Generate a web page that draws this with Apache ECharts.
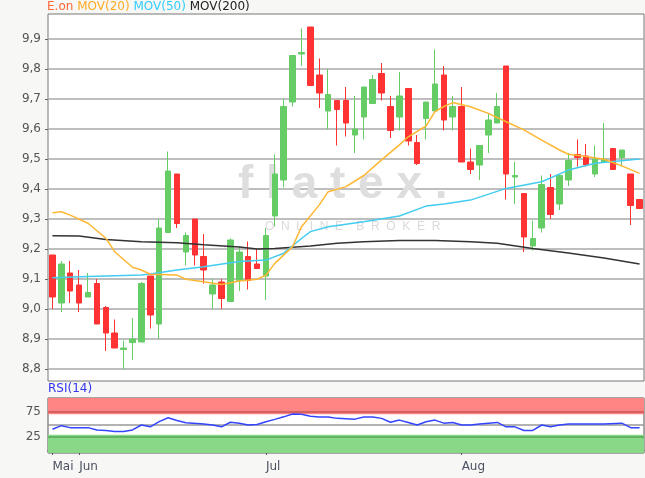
<!DOCTYPE html>
<html><head><meta charset="utf-8">
<script src="https://cdn.jsdelivr.net/npm/echarts@6/dist/echarts.min.js"></script>
<style>html,body{margin:0;padding:0;background:#f7f7f5}#c{width:645px;height:478px}</style>
</head><body><div id="c"></div>
<script>
const dates = ['29.05.','30.05.','31.05.',
 '01.06.','04.06.','05.06.','06.06.','07.06.','08.06.','11.06.','12.06.','13.06.','14.06.','15.06.','18.06.','19.06.','20.06.','21.06.','22.06.','25.06.','26.06.','27.06.','28.06.','29.06.',
 '02.07.','03.07.','04.07.','05.07.','06.07.','09.07.','10.07.','11.07.','12.07.','13.07.','16.07.','17.07.','18.07.','19.07.','20.07.','23.07.','24.07.','25.07.','26.07.','27.07.','30.07.','31.07.',
 '01.08.','02.08.','03.08.','06.08.','07.08.','08.08.','09.08.','10.08.','13.08.','14.08.','15.08.','16.08.','17.08.','20.08.','21.08.','22.08.','23.08.','24.08.','27.08.','28.08.','29.08.'];
// [open, close, low, high]
const ohlc = [
 [9.18,9.04,9.00,9.18],[9.02,9.15,8.99,9.16],[9.12,9.06,9.02,9.16],[9.08,9.02,8.99,9.13],[9.04,9.055,9.04,9.12],
 [9.085,8.95,8.95,9.10],[9.005,8.92,8.86,9.01],[8.92,8.87,8.87,8.965],[8.865,8.87,8.80,8.895],[8.888,8.90,8.83,8.97],
 [8.89,9.085,8.89,9.09],[9.11,8.98,8.935,9.11],[8.95,9.27,8.90,9.30],[9.255,9.46,9.255,9.525],[9.45,9.285,9.27,9.45],
 [9.19,9.245,9.145,9.255],[9.30,9.18,9.145,9.30],[9.175,9.13,9.085,9.25],[9.05,9.08,9.00,9.10],[9.09,9.035,9.00,9.10],
 [9.025,9.23,9.025,9.235],[9.095,9.19,9.06,9.21],[9.175,9.095,9.065,9.225],[9.15,9.135,9.135,9.20],[9.11,9.245,9.03,9.27],
 [9.31,9.45,9.275,9.515],[9.43,9.675,9.405,9.70],[9.69,9.845,9.675,9.845],[9.85,9.855,9.81,9.935],[9.94,9.745,9.745,9.94],
 [9.78,9.72,9.67,9.835],[9.66,9.715,9.60,9.80],[9.695,9.665,9.545,9.695],[9.695,9.62,9.575,9.74],[9.58,9.60,9.52,9.71],
 [9.64,9.74,9.565,9.74],[9.685,9.765,9.685,9.78],[9.785,9.72,9.695,9.82],[9.675,9.595,9.57,9.71],[9.64,9.71,9.595,9.79],
 [9.735,9.56,9.545,9.735],[9.555,9.485,9.48,9.58],[9.635,9.69,9.565,9.69],[9.66,9.75,9.66,9.865],[9.78,9.63,9.595,9.81],
 [9.64,9.675,9.595,9.71],[9.675,9.49,9.49,9.74],[9.49,9.465,9.45,9.535],[9.48,9.545,9.43,9.545],[9.58,9.63,9.52,9.65],
 [9.62,9.675,9.62,9.72],[9.81,9.45,9.365,9.81],[9.44,9.445,9.35,9.49],[9.385,9.24,9.19,9.385],[9.21,9.235,9.195,9.295],
 [9.27,9.415,9.255,9.445],[9.405,9.315,9.30,9.45],[9.35,9.445,9.33,9.445],[9.43,9.495,9.41,9.52],[9.515,9.505,9.475,9.565],
 [9.51,9.48,9.475,9.55],[9.45,9.50,9.44,9.545],[9.49,9.50,9.49,9.62],[9.535,9.465,9.465,9.535],[9.505,9.53,9.475,9.53],
 [9.45,9.345,9.28,9.45],[9.365,9.335,9.335,9.365]];
// [candle index, value]
const mov20 = [[0,9.321],[1,9.324],[2,9.313],[4,9.286],[6,9.236],[7,9.191],[9,9.139],[10,9.130],[11,9.116],[14,9.113],[15,9.099],[17,9.091],[19,9.082],[21,9.093],[23,9.099],[24,9.113],[25,9.152],[27,9.208],[28,9.274],[30,9.347],[31,9.391],[33,9.408],[35,9.445],[37,9.497],[39,9.547],[40,9.574],[42,9.610],[43,9.658],[44,9.675],[45,9.688],[47,9.674],[49,9.652],[51,9.624],[53,9.597],[55,9.563],[57,9.530],[58,9.516],[60,9.508],[62,9.499],[64,9.477],[66,9.452]];
const mov50 = [[0,9.104],[4,9.108],[10,9.113],[11,9.117],[14,9.130],[17,9.141],[21,9.158],[24,9.163],[26,9.186],[28,9.235],[29,9.258],[31,9.274],[35,9.291],[39,9.310],[42,9.343],[44,9.350],[47,9.363],[51,9.402],[55,9.424],[58,9.463],[61,9.486],[66,9.500]];
const mov200 = [[0,9.244],[3,9.243],[6,9.232],[10,9.224],[14,9.221],[17,9.214],[21,9.207],[23,9.200],[25,9.202],[29,9.210],[32,9.219],[35,9.224],[39,9.228],[43,9.228],[47,9.224],[50,9.219],[54,9.202],[58,9.187],[62,9.170],[66,9.150]];
const rsi = [[0,40.6],[1,47.7],[2,43.8],[4,43.8],[5,39.3],[6,38.3],[7,36],[8,36],[9,39.3],[10,49],[11,45.4],[12,55.5],[13,63.3],[14,57.7],[15,53.5],[17,51],[18,49],[19,45.4],[20,54.3],[21,52.6],[22,49],[23,50],[24,55.5],[25,60],[26,65],[27,70.5],[28,70],[29,66],[30,64.5],[31,64.5],[32,62],[34,60.5],[35,64.5],[36,64.5],[37,62],[38,54.3],[39,58.6],[40,54],[41,49],[42,55.5],[43,58.6],[44,52.6],[45,54],[46,49],[47,49],[48,51],[50,54],[51,45.4],[52,45.4],[53,38.3],[54,38.3],[55,49],[56,45.4],[57,49],[58,51],[60,51],[62,51],[64,52.6],[65,43.8],[66,43.8]];
const tickIdx = [0,3,24,46];
const tickLabels = ['Mai','Jun','Jul','Aug'];
const priceMin = 8.8, priceMax = 9.9, priceStep = 0.1;

const FONT = 'DejaVu Sans';
const chart = echarts.init(document.getElementById('c'));
const isTick = (i) => tickIdx.indexOf(i) >= 0;
chart.setOption({
  animation: false,
  backgroundColor: '#f7f7f5',
  textStyle: {fontFamily: FONT},
  title: [
    {text: '{a|E.on} {b|MOV(20)} {c|MOV(50)} {d|MOV(200)}', left: 47, top: 1, padding: 0,
     textStyle: {fontSize: 12, fontWeight: 'normal', rich: {
       a: {color: '#ff6633', fontSize: 12, fontFamily: FONT},
       b: {color: '#ffaa22', fontSize: 12, fontFamily: FONT},
       c: {color: '#33ccff', fontSize: 12, fontFamily: FONT},
       d: {color: '#222222', fontSize: 12, fontFamily: FONT}}}},
    {text: 'RSI(14)', left: 48, top: 383, padding: 0,
     textStyle: {fontSize: 12, fontWeight: 'normal', color: '#3333ee', fontFamily: FONT}}
  ],
  graphic: [
    {type: 'text', left: 238, top: 162, z: 1, silent: true,
     style: {text: 'f l a t e x .', font: 'bold 46px "Liberation Sans"', fill: '#dedede'}},
    {type: 'text', left: 265, top: 221, z: 1, silent: true,
     style: {text: 'O  N  L  I  N  E    B  R  O  K  E  R', font: '12px "Liberation Sans"', fill: '#dadada'}}
  ],
  grid: [
    {left: 48, right: 1, top: 14, height: 367, show: true, backgroundColor: '#ffffff', borderColor: '#777', borderWidth: 1, outerBoundsMode: 'none'},
    {left: 48, right: 1, top: 39, height: 330, outerBoundsMode: 'none'},
    {left: 48, right: 1, top: 398, height: 55, show: true, backgroundColor: '#ffffff', borderColor: '#555', borderWidth: 1, outerBoundsMode: 'none'}
  ],
  xAxis: [
    {gridIndex: 0, type: 'value', min: 0, max: 1, show: false},
    {gridIndex: 1, type: 'category', data: dates, boundaryGap: true, show: false},
    {gridIndex: 2, type: 'category', data: dates, boundaryGap: true,
     axisLine: {show: true, lineStyle: {color: '#555'}},
     axisTick: {show: true, alignWithLabel: true, interval: (i) => isTick(i), length: 5, lineStyle: {color: '#555'}},
     axisLabel: {interval: (i) => isTick(i), formatter: (v, i) => tickLabels[tickIdx.indexOf(i)] || '',
       align: 'left', color: '#4a5060', fontSize: 12, margin: 8, fontFamily: FONT},
     splitLine: {show: false}}
  ],
  yAxis: [
    {gridIndex: 0, type: 'value', min: 0, max: 1, show: false},
    {gridIndex: 1, type: 'value', min: priceMin, max: priceMax, interval: priceStep,
     axisLine: {show: false},
     axisTick: {show: true, length: 3, lineStyle: {color: '#666'}},
     axisLabel: {color: '#555', fontSize: 12, margin: 7, fontFamily: FONT,
       formatter: (v) => v.toFixed(1).replace('.', ',')},
     splitLine: {show: true, lineStyle: {color: '#a8a8a8', width: 1.5}}},
    {gridIndex: 2, type: 'value', min: -6, max: 102, show: false}
  ],
  series: [
    {type: 'candlestick', xAxisIndex: 1, yAxisIndex: 1, data: ohlc, barWidth: 6, clip: false, z: 3,
     itemStyle: {color: '#66cc66', color0: '#ff3333', borderColor: '#66cc66', borderColor0: '#ff3333', borderWidth: 1}},
    {type: 'line', xAxisIndex: 1, yAxisIndex: 1, data: mov200, symbol: 'none', clip: false, z: 4,
     lineStyle: {color: '#333333', width: 1.5}},
    {type: 'line', xAxisIndex: 1, yAxisIndex: 1, data: mov50, symbol: 'none', clip: false, z: 4,
     lineStyle: {color: '#44ccf0', width: 1.5}},
    {type: 'line', xAxisIndex: 1, yAxisIndex: 1, data: mov20, symbol: 'none', clip: false, z: 4,
     lineStyle: {color: '#ffb733', width: 1.5}},
    {type: 'line', xAxisIndex: 2, yAxisIndex: 2, data: rsi, symbol: 'none', z: 5,
     lineStyle: {color: '#3344ff', width: 1.5},
     markArea: {silent: true, data: [
       [{yAxis: 70, itemStyle: {color: '#ff8585'}}, {yAxis: 102}],
       [{yAxis: -6, itemStyle: {color: '#88d888'}}, {yAxis: 30}]
     ]},
     markLine: {silent: true, symbol: 'none', animation: false, data: [
       {yAxis: 75, lineStyle: {color: '#c85555', type: 'solid', width: 1.5}, label: {formatter: '75'}},
       {yAxis: 50, lineStyle: {color: '#999999', type: 'solid', width: 1.5}, label: {show: false}},
       {yAxis: 25, lineStyle: {color: '#55a855', type: 'solid', width: 1.5}, label: {formatter: '25'}}
     ], label: {position: 'start', color: '#555', fontSize: 12, distance: 7, fontFamily: FONT}}}
  ]
});
</script>
</body></html>
